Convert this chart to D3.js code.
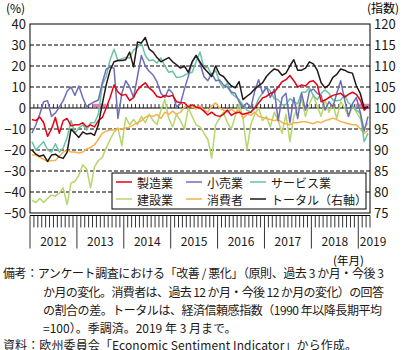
<!DOCTYPE html>
<html>
<head>
<meta charset="utf-8">
<script src="https://cdn.jsdelivr.net/npm/d3@7"></script>
<style>
  body { margin: 0; background: #fff; }
  svg { display: block; font-family: "Noto Sans CJK JP", "Noto Sans", sans-serif; }
</style>
</head>
<body>
<svg id="chart" width="410" height="350"></svg>
<script>
// monthly, Jan 2012 - Mar 2019
const years = ['2012', '2013', '2014', '2015', '2016', '2017', '2018', '2019'];
const leftTicks = [40, 30, 20, 10, 0, -10, -20, -30, -40, -50];
const rightTicks = [120, 115, 110, 105, 100, 95, 90, 85, 80, 75];

// balance (%)
const manufacturing = [-5.5,-6,-4.3,-7,-13.5,-10,-4.5,-12,-6,-5,
  -8.5,-8,-8,-7,-9,-8,-9,-6,-4.5,0,
  5,11,7.6,6,6.5,3.5,5,8.6,10.5,12,
  9.5,8,5.5,5,6,5.5,6,3,2.5,2.5,
  0.5,1.5,0.5,0,-1.5,-3.3,-2,-3.5,-4,-3,
  -1,-3.5,-2.4,-2,-3,-2.5,-2,0,2.4,4.8,
  5.5,7,7.5,10,12.5,13.5,15.5,13,10,11,
  10.5,12.5,13,11,3,3.8,5,6,6.5,7,
  5.2,6.5,7.5,6.5,3.8,-1,0.5];

const retail = [-12,-8,-3,3,3.5,-4,-2.4,0.5,3.5,8,
  10,6,10.5,5,0.5,2,3,3.8,12,18.5,
  19.5,19,-5,7,13,10,5,15,25,20,
  17.5,15.7,12.4,7,5,9,7,0.5,2,9,
  15,22,25,21.4,15,13,16.5,13,13.3,11,
  10,7.6,7,3,0.5,2.4,0,8,13.5,7,
  10,5,9,-6,5,7,-7,5,-5,7,
  -1,8,9,7,6,-1,3,0.5,7,13,
  4,-4,2,5,-2,-11,-4];

const services = [-16,-20,-18,-16,-20,-21,-17,-21,-19,-14,
  -6,-12,-9.5,-8,-10.5,-7,-7,-3,11,15,
  23,28,22.5,23.5,24,23.8,27.6,29,31,25,
  22.5,23,21.4,23.8,20,17,17.5,14.5,14.8,15.5,
  16.5,17,22,26.7,19,19.5,15.5,18,12.4,9.5,
  11.9,7,5.5,4,1.5,-1,-1.9,0,4.5,7,
  10,8,4.5,4,1.5,1.5,4.5,3,2,7.5,
  7.5,9.5,6,4,7,8.6,7,3.8,3.5,3.8,
  6.2,2.4,1,-1,-2.4,-16,-12];

const construction = [-44,-45,-43,-45,-43,-41.5,-42,-40.5,-38,-46,
  -35.7,-35,-32,-27,-29,-38,-28,-25,-23.5,-19,
  -15,-11.5,-9.5,-18,-4.5,-8,-5.5,-8,-4,-7,
  -3,-6,-8,-1,4,-5,-9,-3,-6,-10,
  0,-4,-8,-9,-12,-15,-23.8,-8,-5,-2,
  -7,-10,-4,2,-5,-20,-8,-3,0,-6,
  -4,-9,-2,-6,-12,-3,-16,-4,0,4,
  -4,2,6,1,-4,4,-2,2,-5,3,
  0,-4,1,-2,-5,-10,-7];

const consumer = [-22.4,-22.4,-23.5,-24.5,-25.5,-25,-25,-23,-21,-20,
  -21,-21,-21.4,-21,-19.5,-18.8,-17.5,-15,-12,-11,
  -10.5,-10.5,-10,-10,-9.5,-9,-8,-7,-6,-4.5,
  -3.5,-4,-3,-5,-2,-3,-1.5,-3,-2,0.5,
  1,0.5,-0.5,1,-1,-2,1,2.4,0,-1,
  -2,-0.5,-2,-1,-5,-3,-3.5,-2,-4,-4.5,
  -5,-5.5,-6,-5.5,-7,-7.5,-8,-7,-7,-6.5,
  -6.5,-7,-7.5,-6.5,-7,-6,-5.5,-4.8,-5.5,-6.5,
  -7,-7.5,-8,-8,-10,-12,-10.5];

// economic sentiment indicator (right axis)
const total = [90,89,88.5,88.8,87.3,88.8,89,88.3,88,89.5,
  95,94,93,94.3,93.8,94,93.5,96,101,105.5,
  109,111,111.3,111.3,111.5,113.3,109.8,115.7,115.5,116.8,
  114,113.3,112,111,111.5,112,111,110.3,109.5,110,
  108.5,111,112.5,111,109.5,108.5,107.5,110,108,107.5,
  106.3,105.3,104.8,106.3,102,102.8,103.5,104.5,105.3,106,
  107.5,108.5,109.3,109,107.8,108.3,110,111.5,109,109,
  109.5,111,110.5,109,106,104.8,105.5,107.3,108,109.3,
  109,108.5,108.3,105.3,103.5,100,100.3];

const seriesNames = ['製造業', '小売業', 'サービス業', '建設業', '消費者', 'トータル（右軸）'];
const seriesColors = ['#e60012', '#6e6eb8', '#6cc2a6', '#b7d66b', '#f7b04c', '#231815'];

const notes = [
  '備考：アンケート調査における「改善 / 悪化」（原則、過去 3 か月・今後 3',
  'か月の変化。消費者は、過去 12 か月・今後 12 か月の変化）の回答',
  'の割合の差。トータルは、経済信頼感指数（1990 年以降長期平均',
  '=100）。季調済。2019 年 3 月まで。',
  '資料：欧州委員会「Economic Sentiment Indicator」から作成。'
];

const nMonths = total.length;
const margin = { top: 24, right: 40, bottom: 137, left: 30 };
const width = 410 - margin.left - margin.right;
const height = 350 - margin.top - margin.bottom;

const svg = d3.select('#chart');

const xScale = d3.scaleLinear().domain([0, nMonths]).range([margin.left, margin.left + width]);
const yLeft = d3.scaleLinear().domain([-50, 40]).range([margin.top + height, margin.top]);
const yRight = d3.scaleLinear().domain([75, 120]).range([margin.top + height, margin.top]);

const x0 = margin.left, x1 = margin.left + width;
const yBottom = margin.top + height;

// dashed grid
svg.append('g').selectAll('line')
  .data(leftTicks.filter(d => d !== 0 && d !== 40 && d !== -50))
  .join('line')
  .attr('x1', x0).attr('x2', x1)
  .attr('y1', d => yLeft(d)).attr('y2', d => yLeft(d))
  .attr('stroke', '#000').attr('stroke-width', 1)
  .attr('stroke-dasharray', '4,2');

// zero line with small monthly ticks
svg.append('line')
  .attr('x1', x0).attr('x2', x1)
  .attr('y1', yLeft(0)).attr('y2', yLeft(0))
  .attr('stroke', '#000').attr('stroke-width', 1);

svg.append('g').selectAll('line')
  .data(d3.range(1, nMonths))
  .join('line')
  .attr('x1', d => xScale(d)).attr('x2', d => xScale(d))
  .attr('y1', yLeft(0)).attr('y2', yLeft(0) - 4)
  .attr('stroke', '#000').attr('stroke-width', 0.8);

// pink markers on the zero line
svg.append('g').selectAll('line')
  .data([[16, 19.5], [83.3, 87]])
  .join('line')
  .attr('x1', d => xScale(d[0])).attr('x2', d => xScale(d[1]))
  .attr('y1', yLeft(0) - 2.5).attr('y2', yLeft(0) - 2.5)
  .attr('stroke', '#dd7fb6').attr('stroke-width', 3.5);

// series
const leftSeries = [construction, consumer, services, retail, manufacturing];
const leftIdx = [3, 4, 2, 1, 0];

const lineLeft = d3.line()
  .x((d, i) => xScale(i + 0.5))
  .y(d => yLeft(d));

const lineRight = d3.line()
  .x((d, i) => xScale(i + 0.5))
  .y(d => yRight(d));

leftSeries.forEach((s, k) => {
  svg.append('path')
    .datum(s)
    .attr('fill', 'none')
    .attr('stroke', seriesColors[leftIdx[k]])
    .attr('stroke-width', 1.5)
    .attr('stroke-linejoin', 'round')
    .attr('d', lineLeft);
});

svg.append('path')
  .datum(total)
  .attr('fill', 'none')
  .attr('stroke', seriesColors[5])
  .attr('stroke-width', 1.5)
  .attr('stroke-linejoin', 'round')
  .attr('d', lineRight);

// frame
svg.append('rect')
  .attr('x', x0).attr('y', margin.top)
  .attr('width', width).attr('height', height)
  .attr('fill', 'none').attr('stroke', '#000').attr('stroke-width', 1);

// left / right axes
const yAxisL = svg.append('g')
  .attr('transform', `translate(${x0},0)`)
  .call(d3.axisLeft(yLeft).tickValues(leftTicks).tickSize(0).tickPadding(4));
const yAxisR = svg.append('g')
  .attr('transform', `translate(${x1},0)`)
  .call(d3.axisRight(yRight).tickValues(rightTicks).tickSize(0).tickPadding(4));

[yAxisL, yAxisR].forEach(g => {
  g.select('.domain').remove();
  g.selectAll('text')
    .attr('font-size', 13)
    .attr('font-family', '"Noto Sans CJK JP", sans-serif')
    .attr('fill', '#231815');
});

svg.append('text')
  .attr('x', 6).attr('y', 7)
  .attr('dominant-baseline', 'central')
  .attr('font-size', 12)
  .text('(%)');

svg.append('text')
  .attr('x', 367).attr('y', 7)
  .attr('dominant-baseline', 'central')
  .attr('font-size', 12)
  .text('(指数)');

// bottom time axis
const axisY = yBottom + 2.5;
svg.append('line')
  .attr('x1', x0).attr('x2', x1)
  .attr('y1', axisY).attr('y2', axisY)
  .attr('stroke', '#000').attr('stroke-width', 1);

svg.append('g').selectAll('line')
  .data(d3.range(0, nMonths + 1))
  .join('line')
  .attr('x1', d => xScale(d)).attr('x2', d => xScale(d))
  .attr('y1', axisY)
  .attr('y2', d => (d % 12 === 0) ? axisY + 33 : axisY + 12)
  .attr('stroke', '#000').attr('stroke-width', 0.8);

svg.append('g').selectAll('text')
  .data(years)
  .join('text')
  .attr('x', (d, i) => i < 7 ? xScale(i * 12 + 6) : xScale(84) + 1.5)
  .attr('y', 240)
  .attr('text-anchor', (d, i) => i < 7 ? 'middle' : 'start')
  .attr('dominant-baseline', 'central')
  .attr('font-size', 12)
  .attr('fill', '#231815')
  .text(d => d);

svg.append('text')
  .attr('x', 333).attr('y', 259.5)
  .attr('dominant-baseline', 'central')
  .attr('font-size', 11.5)
  .text('(年月)');

// legend
const legend = svg.append('g');
legend.append('rect')
  .attr('x', 112).attr('y', 173)
  .attr('width', 254).attr('height', 36)
  .attr('fill', '#fff').attr('stroke', '#000').attr('stroke-width', 1);

const legendCols = [116, 186, 250];
const legendRows = [182, 199];
const legendOrder = [0, 1, 2, 3, 4, 5];

const items = legend.selectAll('g.item')
  .data(legendOrder)
  .join('g')
  .attr('class', 'item')
  .attr('transform', (d, i) => `translate(${legendCols[i % 3]},${legendRows[Math.floor(i / 3)]})`);

items.append('line')
  .attr('x1', 0).attr('x2', 16)
  .attr('stroke', d => seriesColors[d])
  .attr('stroke-width', 1.5);

items.append('text')
  .attr('x', 21)
  .attr('dominant-baseline', 'central')
  .attr('font-size', 12)
  .attr('fill', '#231815')
  .text(d => seriesNames[d]);

// notes
const noteX = [3, 43, 43, 43, 3];
const noteY = [272.5, 291, 309.5, 327.5, 344.5];
const noteLen = [381, 341, 339, null, 354];

svg.append('g').selectAll('text')
  .data(notes)
  .join('text')
  .attr('x', (d, i) => noteX[i])
  .attr('y', (d, i) => noteY[i])
  .attr('dominant-baseline', 'central')
  .attr('font-size', 12)
  .attr('fill', '#231815')
  .each(function(d, i) {
    if (noteLen[i]) d3.select(this).attr('textLength', noteLen[i]);
  })
  .text(d => d);
</script>
</body>
</html>
